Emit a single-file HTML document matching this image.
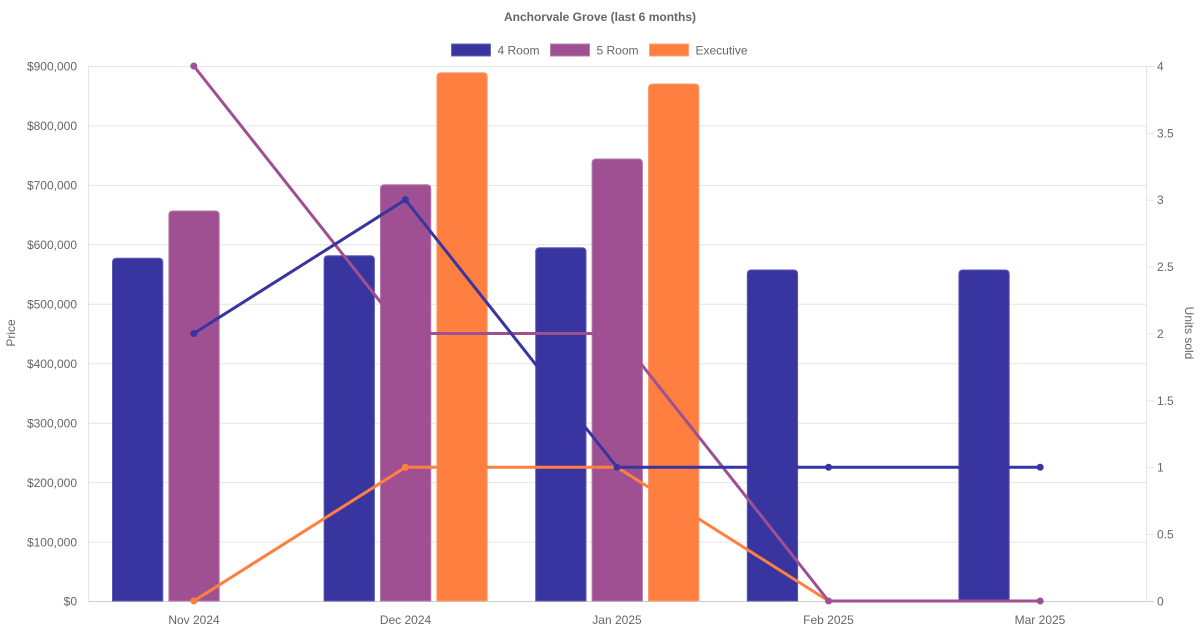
<!DOCTYPE html>
<html><head><meta charset="utf-8"><style>
html,body{margin:0;padding:0;background:#fff;}
svg{display:block;}
text{font-family:"Liberation Sans",Arial,sans-serif;fill:#666;font-size:12px;}
</style></head><body>
<svg width="1200" height="630" viewBox="0 0 1200 630" xmlns="http://www.w3.org/2000/svg">
<rect width="1200" height="630" fill="#fff"/>
<text x="600" y="21" text-anchor="middle" font-weight="bold">Anchorvale Grove (last 6 months)</text>
<!-- legend -->
<rect x="451.5" y="44" width="39" height="12" fill="#3935A0" stroke="#6b68bb" stroke-width="1"/>
<text x="497.5" y="54.5">4 Room</text>
<rect x="550.5" y="44" width="39" height="12" fill="#9E5093" stroke="#b67fad" stroke-width="1"/>
<text x="596.5" y="54.5">5 Room</text>
<rect x="649.5" y="44" width="39" height="12" fill="#FF7F41" stroke="#ffa277" stroke-width="1"/>
<text x="695.5" y="54.5">Executive</text>
<!-- grid -->
<g stroke="#e5e5e5" stroke-width="1">
<line x1="88" y1="66.5" x2="1146" y2="66.5"/>
<line x1="88" y1="125.9" x2="1146" y2="125.9"/>
<line x1="88" y1="185.4" x2="1146" y2="185.4"/>
<line x1="88" y1="244.8" x2="1146" y2="244.8"/>
<line x1="88" y1="304.3" x2="1146" y2="304.3"/>
<line x1="88" y1="363.7" x2="1146" y2="363.7"/>
<line x1="88" y1="423.2" x2="1146" y2="423.2"/>
<line x1="88" y1="482.6" x2="1146" y2="482.6"/>
<line x1="88" y1="542.1" x2="1146" y2="542.1"/>
<line x1="88.5" y1="66" x2="88.5" y2="601"/>
<line x1="1146.5" y1="66" x2="1146.5" y2="601"/>
<line x1="1146" y1="66.5" x2="1154" y2="66.5"/>
<line x1="1146" y1="133.4" x2="1154" y2="133.4"/>
<line x1="1146" y1="200.2" x2="1154" y2="200.2"/>
<line x1="1146" y1="267.1" x2="1154" y2="267.1"/>
<line x1="1146" y1="334" x2="1154" y2="334"/>
<line x1="1146" y1="400.9" x2="1154" y2="400.9"/>
<line x1="1146" y1="467.7" x2="1154" y2="467.7"/>
<line x1="1146" y1="534.6" x2="1154" y2="534.6"/>
</g>
<line x1="88" y1="601.5" x2="1154" y2="601.5" stroke="#cfcfcf" stroke-width="1"/>
<!-- left ticks -->
<g text-anchor="end">
<text x="77" y="70.5">$900,000</text>
<text x="77" y="130">$800,000</text>
<text x="77" y="189.5">$700,000</text>
<text x="77" y="249">$600,000</text>
<text x="77" y="308.5">$500,000</text>
<text x="77" y="368">$400,000</text>
<text x="77" y="427.5">$300,000</text>
<text x="77" y="487">$200,000</text>
<text x="77" y="546.5">$100,000</text>
<text x="77" y="605.5">$0</text>
</g>
<g>
<text x="1157" y="70.5">4</text>
<text x="1157" y="137.5">3.5</text>
<text x="1157" y="204">3</text>
<text x="1157" y="271">2.5</text>
<text x="1157" y="338">2</text>
<text x="1157" y="405">1.5</text>
<text x="1157" y="471.5">1</text>
<text x="1157" y="538.5">0.5</text>
<text x="1157" y="605.5">0</text>
</g>
<text transform="translate(15,333) rotate(-90)" text-anchor="middle">Price</text>
<text transform="translate(1185,333) rotate(90)" text-anchor="middle">Units sold</text>
<g text-anchor="middle">
<text x="194" y="624">Nov 2024</text>
<text x="405.5" y="624">Dec 2024</text>
<text x="617" y="624">Jan 2025</text>
<text x="828.5" y="624">Feb 2025</text>
<text x="1040" y="624">Mar 2025</text>
</g>
<!-- bars -->
<g fill="#3935A0" stroke="#5d59b5" stroke-width="1">
<path d="M112.5,601 L112.5,262.3 Q112.5,258.3 116.5,258.3 L158.8,258.3 Q162.8,258.3 162.8,262.3 L162.8,601 Z"/>
<path d="M324.1,601 L324.1,259.7 Q324.1,255.7 328.1,255.7 L370.4,255.7 Q374.4,255.7 374.4,259.7 L374.4,601 Z"/>
<path d="M535.7,601 L535.7,251.7 Q535.7,247.7 539.7,247.7 L582,247.7 Q586,247.7 586,251.7 L586,601 Z"/>
<path d="M747.3,601 L747.3,274 Q747.3,270 751.3,270 L793.6,270 Q797.6,270 797.6,274 L797.6,601 Z"/>
<path d="M958.9,601 L958.9,274 Q958.9,270 962.9,270 L1005.2,270 Q1009.2,270 1009.2,274 L1009.2,601 Z"/>
</g>
<g fill="#9E5093" stroke="#b577aa" stroke-width="1">
<path d="M168.9,601 L168.9,215 Q168.9,211 172.9,211 L215.2,211 Q219.2,211 219.2,215 L219.2,601 Z"/>
<path d="M380.5,601 L380.5,188.7 Q380.5,184.7 384.5,184.7 L426.8,184.7 Q430.8,184.7 430.8,188.7 L430.8,601 Z"/>
<path d="M592.1,601 L592.1,163 Q592.1,159 596.1,159 L638.4,159 Q642.4,159 642.4,163 L642.4,601 Z"/>
</g>
<g fill="#FF7F41" stroke="#ff9c6c" stroke-width="1">
<path d="M436.9,601 L436.9,76.7 Q436.9,72.7 440.9,72.7 L483.2,72.7 Q487.2,72.7 487.2,76.7 L487.2,601 Z"/>
<path d="M648.5,601 L648.5,88 Q648.5,84 652.5,84 L694.8,84 Q698.8,84 698.8,88 L698.8,601 Z"/>
</g>
<!-- lines -->
<g fill="none" stroke-width="3" stroke-linejoin="round">
<polyline stroke="#FF7F41" points="193.8,601 405.4,467.25 617,467.25 828.6,601 1040.2,601"/>
<polyline stroke="#9E5093" points="193.8,66 405.4,333.5 617,333.5 828.6,601 1040.2,601"/>
<polyline stroke="#3935A0" points="193.8,333.5 405.4,199.75 617,467.25 828.6,467.25 1040.2,467.25"/>
</g>
<g fill="#FF7F41">
<circle cx="193.8" cy="601" r="3.5"/><circle cx="405.4" cy="467.25" r="3.5"/><circle cx="617" cy="467.25" r="3.5"/>
</g>
<g fill="#9E5093">
<circle cx="193.8" cy="66" r="3.5"/><circle cx="405.4" cy="333.5" r="3.5"/><circle cx="617" cy="333.5" r="3.5"/><circle cx="828.6" cy="601" r="3.5"/><circle cx="1040.2" cy="601" r="3.5"/>
</g>
<g fill="#3935A0">
<circle cx="193.8" cy="333.5" r="3.5"/><circle cx="405.4" cy="199.75" r="3.5"/><circle cx="617" cy="467.25" r="3.5"/><circle cx="828.6" cy="467.25" r="3.5"/><circle cx="1040.2" cy="467.25" r="3.5"/>
</g>
</svg>
</body></html>
